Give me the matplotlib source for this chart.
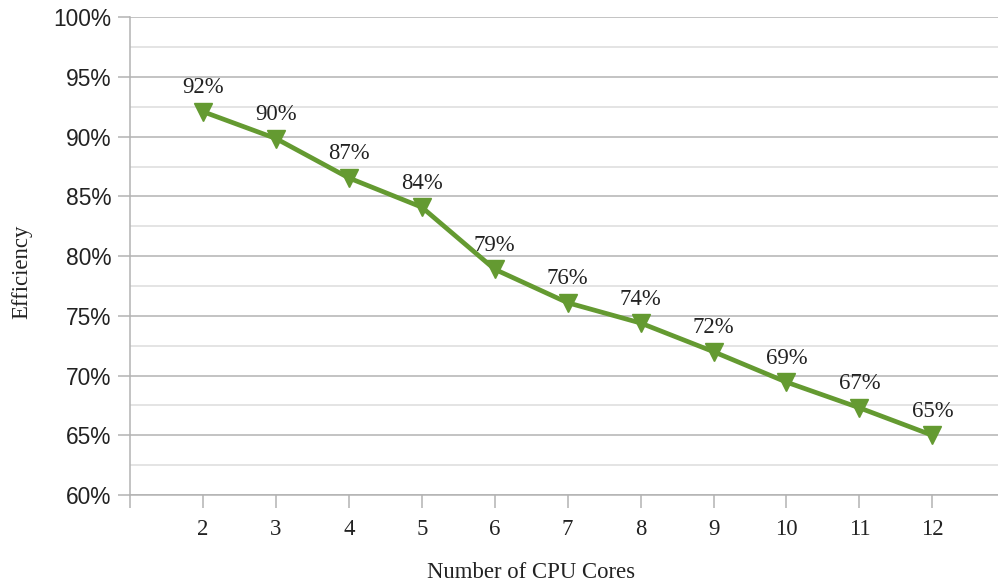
import matplotlib
matplotlib.use("Agg")
import matplotlib.pyplot as plt
from matplotlib.ticker import MultipleLocator, FuncFormatter

cores = [2, 3, 4, 5, 6, 7, 8, 9, 10, 11, 12]
efficiency = [92.1, 89.85, 86.55, 84.1, 78.9, 76.1, 74.4, 72.0, 69.45, 67.3, 65.0]
labels = ["92%", "90%", "87%", "84%", "79%", "76%", "74%", "72%", "69%", "67%", "65%"]

green = "#649a31"
serif = ["Liberation Serif", "DejaVu Serif"]
sans = ["Liberation Sans", "DejaVu Sans"]
FS = 16.4

fig = plt.figure(figsize=(9.98, 5.84), dpi=100)
W, H = 998, 584
ax = fig.add_axes([130 / W, 1 - 495 / H, (998 - 130) / W, (495 - 17.3) / H])

ax.set_ylim(60, 100)
ax.set_xlim(1, 12.9)
ax.yaxis.set_major_locator(MultipleLocator(5))
ax.yaxis.set_minor_locator(MultipleLocator(2.5))
ax.yaxis.set_major_formatter(FuncFormatter(lambda v, p: f"{v:.0f}%"))
ax.set_xticks([1] + cores)
ax.set_xticklabels([""] + [str(c) for c in cores])

ax.grid(axis="y", which="major", color="#b3b3b3", linewidth=1.1)
ax.grid(axis="y", which="minor", color="#dddddd", linewidth=1.1)
ax.set_axisbelow(True)
for s in ["top", "right"]:
    ax.spines[s].set_visible(False)
for s in ["left", "bottom"]:
    ax.spines[s].set_color("#b3b3b3")
    ax.spines[s].set_linewidth(1.1)

ax.tick_params(axis="y", which="major", length=9, width=1.1, color="#b3b3b3", pad=4.5)
ax.tick_params(axis="y", which="minor", length=0)
ax.tick_params(axis="x", length=9, width=1.1, color="#b3b3b3", pad=8)
for t in ax.get_yticklabels():
    t.set_fontfamily(sans)
    t.set_fontsize(FS)
    t.set_color("#222222")
for t in ax.get_xticklabels():
    t.set_fontfamily(serif)
    t.set_fontsize(FS)
    t.set_color("#222222")

ax.plot(cores, efficiency, color=green, linewidth=3.4, marker="v",
        markersize=12.5, markerfacecolor=green, markeredgecolor=green, clip_on=False, zorder=3)

for x, y, lab in zip(cores, efficiency, labels):
    ax.annotate(lab, (x, y), xytext=(0, 24), textcoords="offset pixels",
                ha="center", va="center", fontsize=FS, family=serif, color="#222222")

fig.text(22 / W, 1 - 272 / H, "Efficiency", rotation=90, ha="center", va="center",
         fontsize=FS, family=serif, color="#222222")
fig.text(531 / W, 1 - 572 / H, "Number of CPU Cores", ha="center", va="center",
         fontsize=FS, family=serif, color="#222222")

fig.savefig("out.png", dpi=100)
